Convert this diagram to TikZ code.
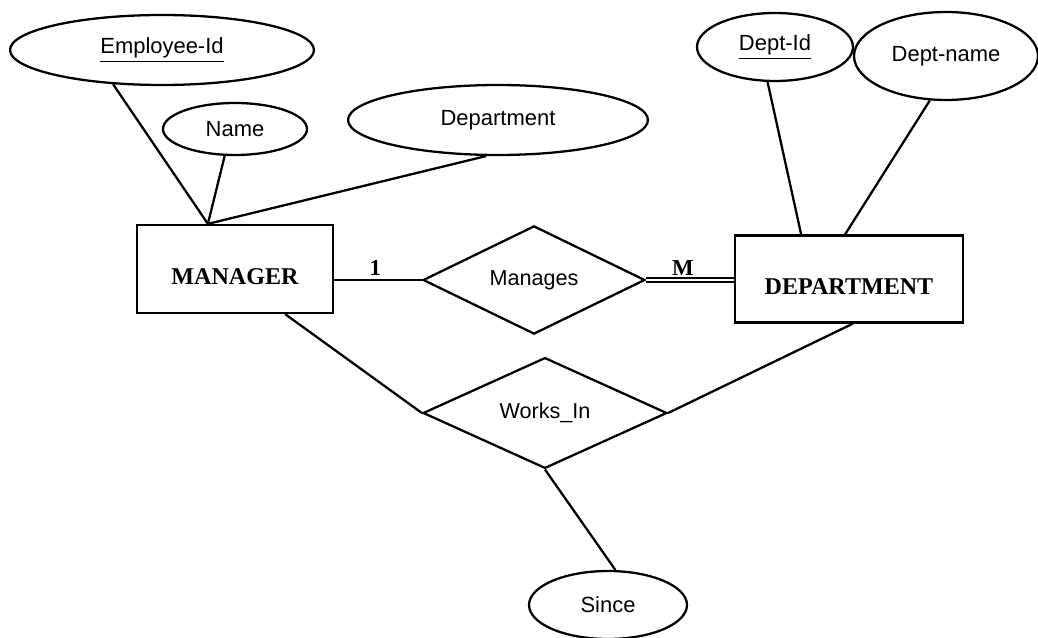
\documentclass[tikz,border=0pt]{standalone}
\usepackage{fontspec}
\setmainfont{Liberation Serif}
\setsansfont{Liberation Sans}
\usetikzlibrary{shapes.geometric}

\tikzset{
    attr/.style={ellipse, draw, line width=1.3pt, inner sep=0pt, font=\sffamily\fontsize{12.5}{15}\selectfont},
    entity/.style={rectangle, draw, line width=1.3pt, text height=0.64cm, text depth=0pt, font=\bfseries\fontsize{13.7}{16}\selectfont},
    rel/.style={diamond, draw, line width=1.3pt, inner sep=0pt, font=\sffamily\fontsize{12.3}{15}\selectfont},
    link/.style={line width=1.3pt},
    card/.style={font=\bfseries\fontsize{13}{15}\selectfont, inner sep=2pt},
}

\begin{document}
\begin{tikzpicture}[x=0.02cm, y=-0.02cm]
    \useasboundingbox (0,0) rectangle (1038,638);
    % Entities
    \node[entity, minimum width=3.92cm, minimum height=1.76cm] (mgr) at (235,269) {MANAGER};
    \node[entity, minimum width=4.56cm, minimum height=1.74cm] (dpt) at (849,279) {DEPARTMENT};
    % Relationships
    \node[rel, minimum width=4.44cm, minimum height=1.72cm] (manages) at (534,280) {Manages};
    \node[rel, minimum width=4.88cm, minimum height=2.04cm] (works) at (545,413) {Works\_In};
    % Attributes: name/x/y/width/height/text
    \def\attrs{emp/162/50/6.08/1.4/\underline{Employee-Id},
        name/235/129/2.88/1.04/Name,
        dept/498/120/6.0/1.4/Department,
        did/775/47/3.12/1.36/\underline{Dept-Id},
        dname/946/56/3.68/1.76/Dept-name,
        since/608/605/3.16/1.36/Since}
    \foreach \n/\x/\y/\w/\h/\t in \attrs {
        \node[attr, minimum width=\w cm, minimum height=\h cm] (\n) at (\x,\y) {\t};
    }
    % Attribute links
    \foreach \a/\b in {emp.215/mgr.121, name.249/mgr.121, dept.252/mgr.121,
        did.258/dpt.137, dname.250/dpt.95, since.78/works.south} {
        \draw[link] (\a) -- (\b);
    }
    % Manages, 1:M with total participation
    \draw[link] (mgr.east |- manages.west) -- node[card, above, pos=0.47] (one) {1} (manages.west);
    \draw[line width=1pt, double, double distance=1.6pt] (manages.east) -- node[card, above, pos=0.42] (many) {M} (dpt.west |- manages.east);
    % Works_In
    \draw[link] (mgr.-42) -- (works.west);
    \draw[link] (dpt.-85) -- (works.east);
\end{tikzpicture}
\end{document}
